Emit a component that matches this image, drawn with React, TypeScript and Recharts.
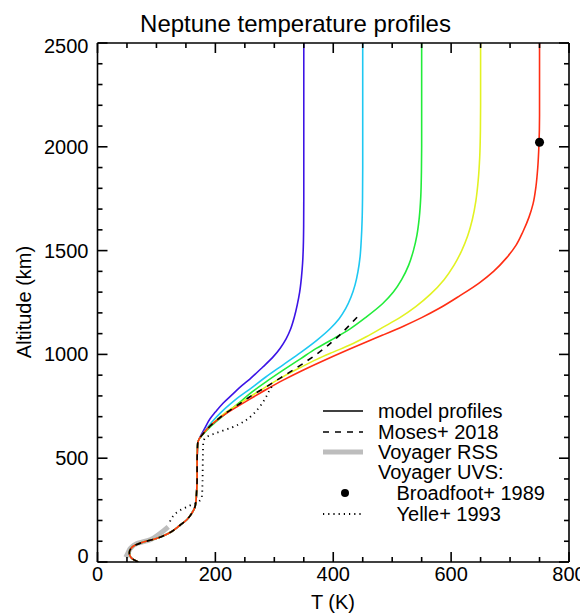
import React from 'react';
import { ComposedChart, Line, Scatter, XAxis, YAxis } from 'recharts';

type P = [number, number];

// Common lower profile (T in K, altitude in km)
const baseProfile: P[] = [
  [69, 0], [62, 10], [56, 25], [54, 45], [56, 62], [62, 78], [78, 96], [100, 113],
  [120, 137], [140, 177], [152, 205], [160, 235], [165, 262], [167, 290], [168, 330],
  [169, 400], [169, 480], [169.5, 540], [170, 570], [172, 590],
];

const model350: P[] = [
  [177, 618], [183, 650], [191, 690], [200, 722], [213, 765], [228, 805], [241, 840],
  [258, 880], [280, 938], [298, 988], [310, 1030], [320, 1075], [328, 1125], [334, 1180],
  [339, 1240], [343, 1300], [346, 1370], [348, 1440], [349.2, 1520], [349.8, 1620],
  [350, 1750], [350, 2500],
];
const model450: P[] = [
  [178, 615], [186, 645], [196, 680], [210, 722], [225, 760], [240, 795], [258, 832],
  [285, 890], [315, 950], [345, 1010], [372, 1068], [395, 1125], [410, 1172], [421, 1220],
  [430, 1275], [437, 1335], [442, 1400], [445.5, 1470], [447.5, 1550], [449, 1650],
  [449.7, 1760], [450, 1900], [450, 2500],
];
const model550: P[] = [
  [180, 618], [191, 650], [205, 685], [220, 720], [240, 766], [258, 810], [287, 870],
  [315, 924], [345, 980], [372, 1030], [400, 1075], [428, 1122], [456, 1180], [484, 1245],
  [502, 1300], [516, 1360], [528, 1430], [536, 1500], [542, 1575], [546, 1660],
  [548.5, 1760], [549.6, 1880], [550, 2000], [550, 2500],
];
const model650: P[] = [
  [180, 620], [191, 656], [205, 692], [220, 725], [240, 762], [260, 798], [287, 846],
  [315, 893], [345, 938], [372, 976], [400, 1011], [428, 1045], [456, 1085], [484, 1130],
  [513, 1177], [540, 1230], [565, 1290], [588, 1360], [605, 1430], [618, 1500], [628, 1570],
  [636, 1650], [642, 1740], [646, 1840], [648.5, 1950], [649.7, 2080], [650, 2200], [650, 2500],
];
const model750: P[] = [
  [180, 622], [191, 655], [205, 688], [220, 718], [240, 753], [260, 787], [287, 832],
  [315, 876], [345, 919], [372, 955], [400, 991], [428, 1026], [456, 1060], [484, 1093],
  [520, 1137], [550, 1177], [580, 1222], [615, 1283], [648, 1345], [672, 1400], [694, 1465],
  [710, 1525], [722, 1592], [732, 1660], [739, 1725], [744, 1810], [747, 1900], [749, 2010],
  [750, 2150], [750, 2500],
];
const moses2018: P[] = [
  [180, 620], [191, 655], [205, 690], [220, 722], [240, 760], [258, 795], [287, 845],
  [310, 886], [332, 925], [355, 968], [377, 1012], [398, 1060], [417, 1110], [430, 1148],
  [441, 1181],
];
const voyagerRSS: P[] = [
  [48, 22], [52, 45], [56, 66], [66, 88], [89, 107], [106, 137], [120, 169],
];
const yelle1993: P[] = [
  [123, 195], [126, 212], [132, 232], [140, 249], [150, 263], [160, 276], [170, 288],
  [175, 300], [177, 315], [178, 360], [178.5, 450], [179, 540], [179.5, 575], [182, 595],
  [188, 607], [200, 620], [213, 633], [228, 648], [241, 665], [253, 685], [264, 712],
  [273, 740], [281, 771], [287, 800], [292, 828], [298, 855],
];
const broadfoot1989: P[] = [[750, 2022]];

const modelColors = ['#3c14e6', '#1ec8f2', '#22ec3a', '#e2f222', '#ff2e14'];
const models = [model350, model450, model550, model650, model750];

const xTicks = [0, 50, 100, 150, 200, 250, 300, 350, 400, 450, 500, 550, 600, 650, 700, 750, 800];
const yTicks = [0, 100, 200, 300, 400, 500, 600, 700, 800, 900, 1000, 1100, 1200, 1300, 1400, 1500,
  1600, 1700, 1800, 1900, 2000, 2100, 2200, 2300, 2400, 2500];

const toData = (pts: P[]) => pts.map(([t, z]) => ({ t, z }));

const FONT = '"Liberation Sans", Arial, Helvetica, sans-serif';
const SW = 1.6;

const BottomTick = (p: any) => {
  const { x, y, payload } = p;
  const v = payload.value;
  const major = v % 200 === 0;
  return (
    <g>
      <line x1={x} x2={x} y1={y} y2={y - (major ? 10 : 5)} stroke="#000" strokeWidth={SW} />
      {major && (
        <text x={x} y={y + 19} textAnchor="middle" fontSize={20} fontFamily={FONT} fill="#000">{v}</text>
      )}
    </g>
  );
};
const TopTick = (p: any) => {
  const { x, y, payload } = p;
  const major = payload.value % 200 === 0;
  return <line x1={x} x2={x} y1={y} y2={y + (major ? 10 : 5)} stroke="#000" strokeWidth={SW} />;
};
const LeftTick = (p: any) => {
  const { x, y, payload } = p;
  const v = payload.value;
  const major = v % 500 === 0;
  const shift = v === 0 ? -6 : v === 2500 ? 3 : 0;
  return (
    <g>
      <line x1={x} x2={x + (major ? 10 : 5)} y1={y} y2={y} stroke="#000" strokeWidth={SW} />
      {major && (
        <text x={x - 9} y={y + 7 + shift} textAnchor="end" fontSize={20} fontFamily={FONT} fill="#000">{v}</text>
      )}
    </g>
  );
};
const RightTick = (p: any) => {
  const { x, y, payload } = p;
  const major = payload.value % 500 === 0;
  return <line x1={x} x2={x - (major ? 10 : 5)} y1={y} y2={y} stroke="#000" strokeWidth={SW} />;
};

const W = 580;
const H = 607;

export default function App() {
  const legendRows = [403, 424, 444, 464, 485, 506];
  return (
    <div style={{ position: 'relative', width: W, height: H }}>
      <ComposedChart width={W} height={H} margin={{ top: 34, right: 18, bottom: 3, left: 29.5 }}>
        <XAxis xAxisId={0} dataKey="t" type="number" domain={[0, 800]} ticks={xTicks} interval={0}
          orientation="bottom" height={50} tickSize={0} tickMargin={0} allowDataOverflow
          axisLine={{ stroke: '#000', strokeWidth: SW }} tickLine={false} tick={BottomTick} />
        <XAxis xAxisId="top" dataKey="t" type="number" domain={[0, 800]} ticks={xTicks} interval={0}
          orientation="top" height={1} tickSize={0} tickMargin={0} allowDataOverflow
          axisLine={{ stroke: '#000', strokeWidth: SW }} tickLine={false} tick={TopTick} />
        <YAxis yAxisId={0} dataKey="z" type="number" domain={[0, 2500]} ticks={yTicks} interval={0}
          orientation="left" width={60} tickSize={0} tickMargin={0} allowDataOverflow
          axisLine={{ stroke: '#000', strokeWidth: SW }} tickLine={false} tick={LeftTick} />
        <YAxis yAxisId="right" dataKey="z" type="number" domain={[0, 2500]} ticks={yTicks} interval={0}
          orientation="right" width={1} tickSize={0} tickMargin={0} allowDataOverflow
          axisLine={{ stroke: '#000', strokeWidth: SW }} tickLine={false} tick={RightTick} />

        <Line data={toData(voyagerRSS)} dataKey="z" type="monotoneY" stroke="#bdbdbd" strokeWidth={5}
          dot={false} activeDot={false} isAnimationActive={false} />
        {models.map((m, i) => (
          <Line key={i} data={toData([...baseProfile, ...m])} dataKey="z" type="monotoneY"
            stroke={modelColors[i]} strokeWidth={1.6} dot={false} activeDot={false} isAnimationActive={false} />
        ))}
        <Line data={toData(yelle1993)} dataKey="z" type="monotoneY" stroke="#000" strokeWidth={1.8}
          strokeDasharray="1.2 4" dot={false} activeDot={false} isAnimationActive={false} />
        <Line data={toData([...baseProfile, ...moses2018])} dataKey="z" type="monotoneY" stroke="#000"
          strokeWidth={1.6} strokeDasharray="6 6" dot={false} activeDot={false} isAnimationActive={false} />
        <Scatter data={toData(broadfoot1989)} dataKey="z" fill="#000" isAnimationActive={false} />
      </ComposedChart>

      <svg width={W} height={H} style={{ position: 'absolute', left: 0, top: 0, pointerEvents: 'none' }}>
        <text x={287.5} y={23.5} textAnchor="middle" fontSize={24} fontFamily={FONT} fill="#000">
          Neptune temperature profiles
        </text>
        <text x={325} y={601} textAnchor="middle" fontSize={20} fontFamily={FONT} fill="#000">T (K)</text>
        <text transform="translate(23,294) rotate(-90)" textAnchor="middle" fontSize={20} fontFamily={FONT} fill="#000">
          Altitude (km)
        </text>
        <g fontFamily={FONT} fontSize={20} fill="#000">
          <line x1={315} x2={355} y1={legendRows[0]} y2={legendRows[0]} stroke="#000" strokeWidth={1.6} />
          <text x={370} y={legendRows[0] + 6.5}>model profiles</text>
          <line x1={315} x2={355} y1={legendRows[1]} y2={legendRows[1]} stroke="#000" strokeWidth={1.6} strokeDasharray="6 6" />
          <text x={370} y={legendRows[1] + 6.5}>Moses+ 2018</text>
          <line x1={315} x2={355} y1={legendRows[2]} y2={legendRows[2]} stroke="#bdbdbd" strokeWidth={5} />
          <text x={370} y={legendRows[2] + 6.5}>Voyager RSS</text>
          <text x={370} y={legendRows[3] + 6.5}>Voyager UVS:</text>
          <circle cx={337} cy={legendRows[4]} r={4} fill="#000" />
          <text x={388.5} y={legendRows[4] + 6.5}>Broadfoot+ 1989</text>
          <line x1={315} x2={355} y1={legendRows[5]} y2={legendRows[5]} stroke="#000" strokeWidth={1.8} strokeDasharray="1.2 4" />
          <text x={388.5} y={legendRows[5] + 6.5}>Yelle+ 1993</text>
        </g>
      </svg>
    </div>
  );
}
